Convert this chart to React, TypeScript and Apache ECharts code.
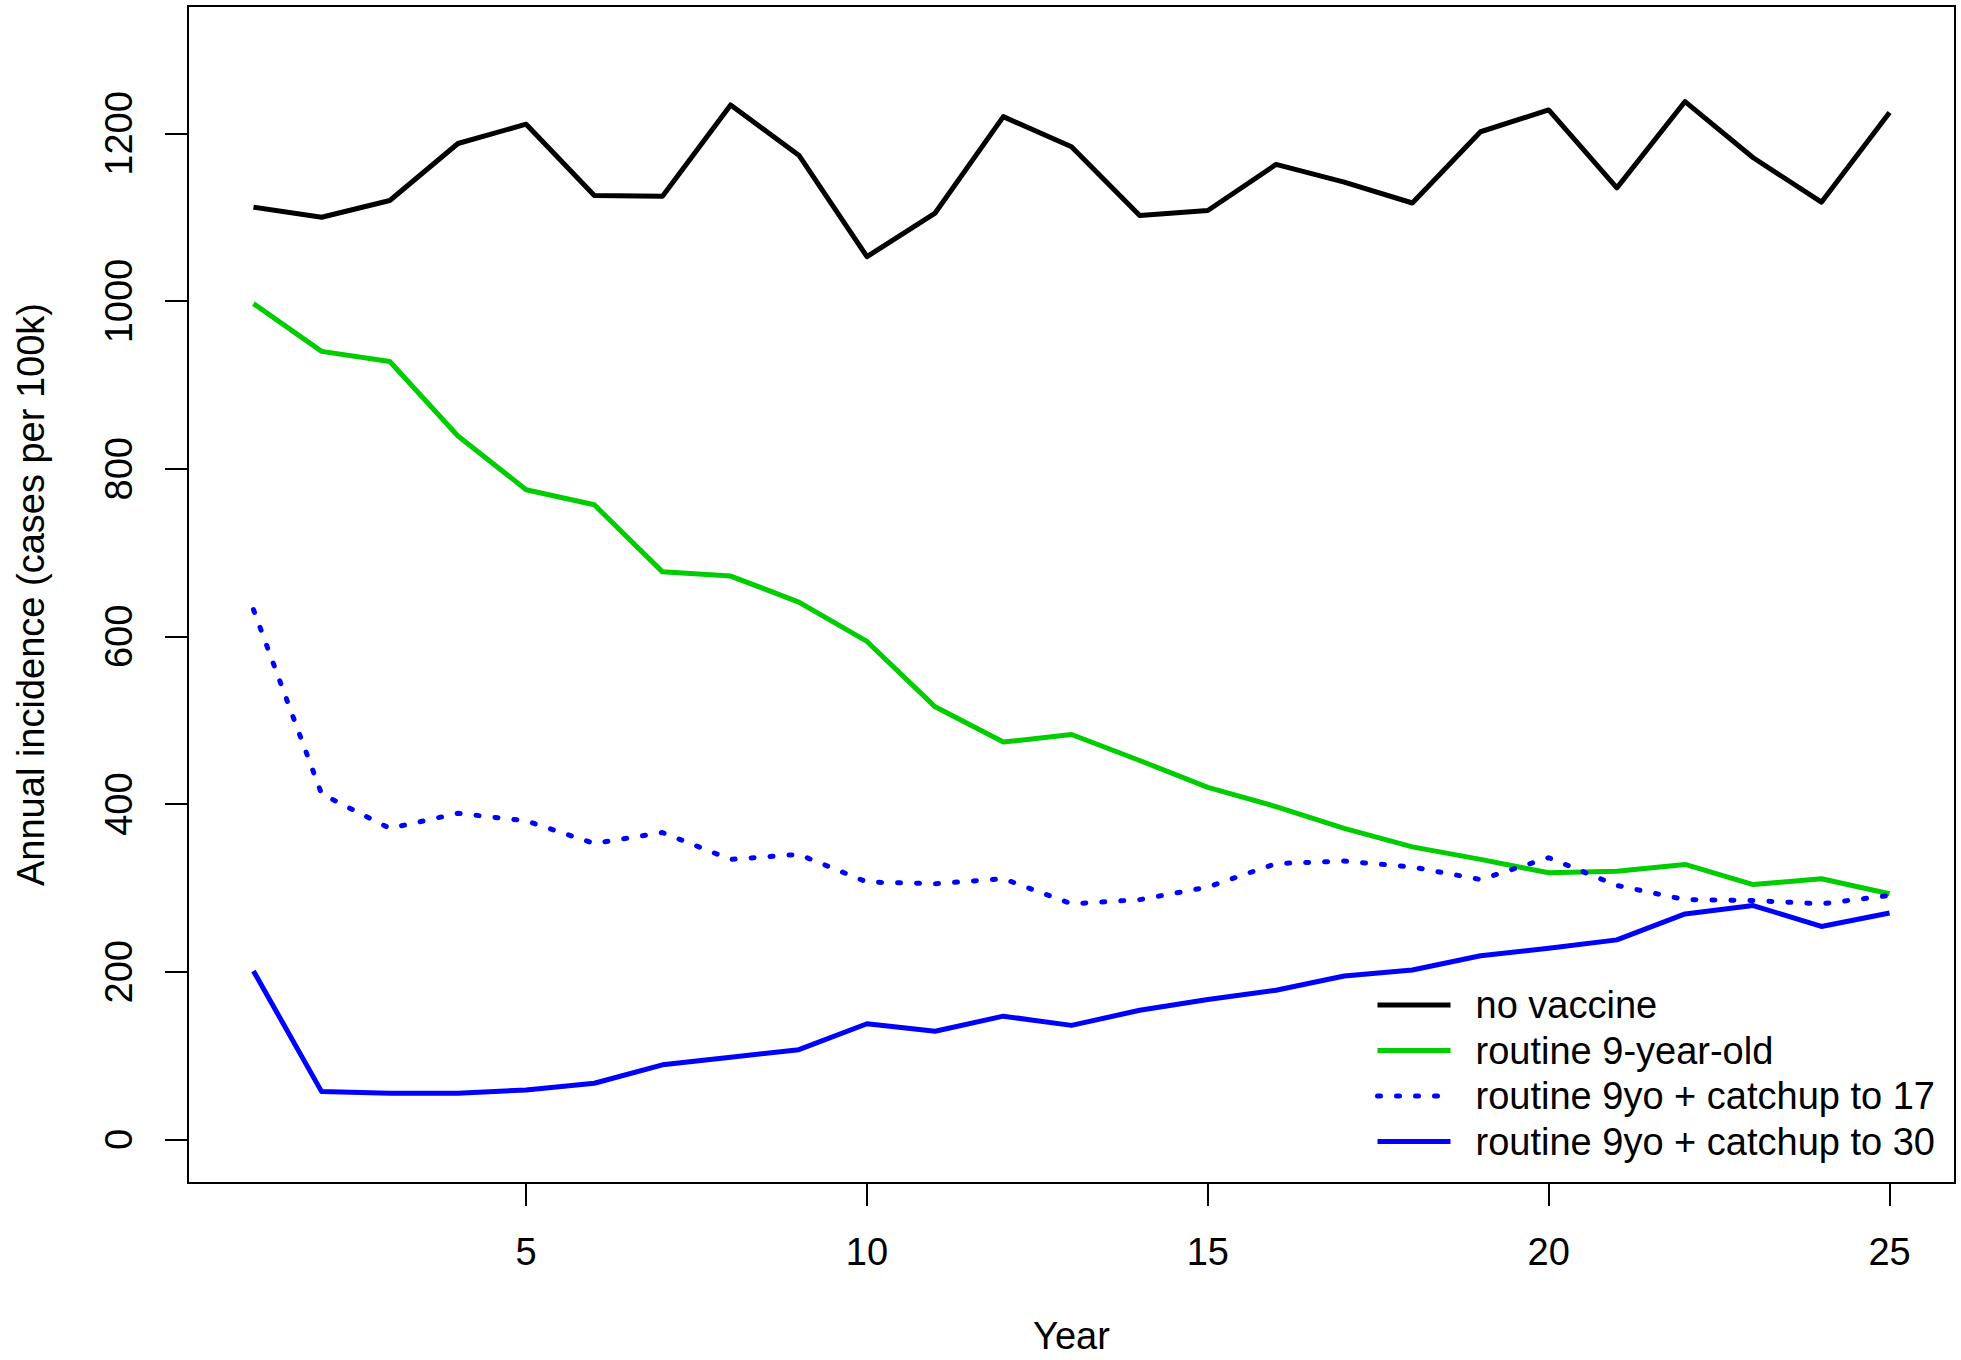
import React, { useEffect, useRef } from "react";
import * as echarts from "echarts";

const years = [1, 2, 3, 4, 5, 6, 7, 8, 9, 10, 11, 12, 13, 14, 15, 16, 17, 18, 19, 20, 21, 22, 23, 24, 25];
const noVaccine = [1112, 1100, 1120, 1188, 1211, 1126, 1125, 1234, 1174, 1053, 1105, 1220, 1184, 1102, 1108, 1163, 1142, 1117, 1202, 1228, 1135, 1238, 1171, 1118, 1225];
const routine9 = [997, 940, 928, 839, 775, 757, 677, 672, 641, 594, 516, 474, 483, 452, 420, 397, 371, 349, 334, 318, 320, 328, 304, 311, 293];
const catchup17 = [632, 412, 371, 389, 380, 353, 366, 334, 340, 307, 305, 311, 281, 286, 301, 329, 332, 325, 310, 336, 303, 286, 285, 281, 291];
const catchup30 = [201, 57, 55, 55, 59, 67, 89, 98, 107, 138, 129, 147, 136, 154, 167, 178, 195, 202, 219, 228, 238, 269, 279, 254, 270];
const xTicks = [5, 10, 15, 20, 25];
const yTicks = [0, 200, 400, 600, 800, 1000, 1200];
const seriesNames = [
  "no vaccine",
  "routine 9-year-old",
  "routine 9yo + catchup to 17",
  "routine 9yo + catchup to 30",
];

const FONT = "'Liberation Sans', Arial, Helvetica, sans-serif";
const W = 1961;
const H = 1360;

export default function App() {
  const ref = useRef<HTMLDivElement>(null);
  useEffect(() => {
    if (!ref.current) return;
    document.body.style.margin = "0";
    const chart = echarts.init(ref.current, undefined, { renderer: "svg", width: W, height: H });
    const pairs = (vals: number[]) => years.map((y, i) => [y, vals[i]]);
    const mk = (name: string, vals: number[], color: string, type: any) => ({
      name,
      type: "line",
      data: pairs(vals),
      symbol: "none",
      showSymbol: false,
      color,
      lineStyle: { color, width: 5, type, cap: type === "solid" ? "butt" : "round", join: "round" },
    });
    chart.setOption({
      animation: false,
      backgroundColor: "#ffffff",
      textStyle: { fontFamily: FONT },
      grid: {
        left: 188,
        top: 6,
        right: 6,
        bottom: 177,
        show: true,
        borderColor: "#000",
        borderWidth: 2,
        containLabel: false,
        outerBoundsMode: "none",
      },
      xAxis: {
        type: "value",
        min: 0.04,
        max: 25.96,
        name: "Year",
        nameLocation: "middle",
        nameGap: 138,
        nameTextStyle: { fontSize: 38, lineHeight: 30, color: "#000", fontFamily: FONT },
        axisLine: { show: true, onZero: false, lineStyle: { color: "#000", width: 2 } },
        axisTick: { show: true, length: 23, lineStyle: { color: "#000", width: 2 }, customValues: xTicks },
        axisLabel: {
          fontSize: 38,
          color: "#000",
          margin: 50,
          fontFamily: FONT,
          customValues: xTicks,
          formatter: (v: number) => String(v),
        },
        splitLine: { show: false },
      },
      yAxis: {
        type: "value",
        min: -52,
        max: 1352,
        name: "Annual incidence (cases per 100k)",
        nameLocation: "middle",
        nameGap: 138,
        nameTextStyle: { fontSize: 38, color: "#000", fontFamily: FONT },
        axisLine: { show: true, onZero: false, lineStyle: { color: "#000", width: 2 } },
        axisTick: { show: true, length: 23, lineStyle: { color: "#000", width: 2 }, customValues: yTicks },
        axisLabel: {
          fontSize: 38,
          color: "#000",
          margin: 50,
          rotate: 90,
          fontFamily: FONT,
          customValues: yTicks,
          formatter: (v: number) => String(v),
        },
        splitLine: { show: false },
      },
      legend: {
        orient: "vertical",
        left: 1370,
        top: 981,
        itemWidth: 73,
        itemHeight: 4,
        itemGap: 7.5,
        itemStyle: { opacity: 0 },
        lineStyle: { width: 5 },
        textStyle: { fontSize: 38, color: "#000", fontFamily: FONT, lineHeight: 38, padding: [0, 0, 0, 20] },
        data: seriesNames,
      },
      series: [
        mk(seriesNames[0], noVaccine, "#000000", "solid"),
        mk(seriesNames[1], routine9, "#00CD00", "solid"),
        mk(seriesNames[2], catchup17, "#0000FF", [3, 16]),
        mk(seriesNames[3], catchup30, "#0000FF", "solid"),
      ],
    });
    return () => chart.dispose();
  }, []);
  return <div ref={ref} style={{ width: W, height: H, background: "#fff", overflow: "hidden" }} />;
}
